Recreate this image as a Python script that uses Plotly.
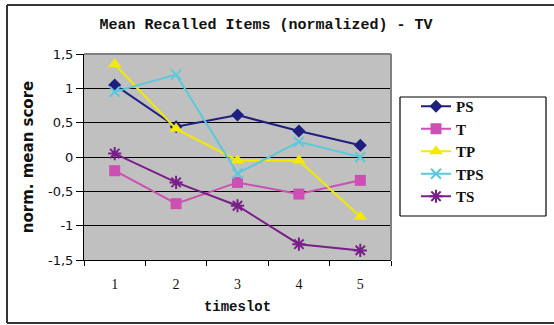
import plotly.graph_objects as go

timeslots = ["1", "2", "3", "4", "5"]
ps = [1.05, 0.44, 0.61, 0.38, 0.17]
t = [-0.20, -0.68, -0.37, -0.54, -0.34]
tp = [1.35, 0.41, -0.05, -0.05, -0.87]
tps = [0.95, 1.20, -0.24, 0.22, 0.00]
ts = [0.05, -0.37, -0.71, -1.27, -1.36]

y_ticks = [-1.5, -1, -0.5, 0, 0.5, 1, 1.5]
y_labels = ["-1,5", "-1", "-0,5", "0", "0,5", "1", "1,5"]

series = [
    ("PS", ps, "#1f1f80", dict(symbol="diamond", size=10)),
    ("T", t, "#cc4fb3", dict(symbol="square", size=11)),
    ("TP", tp, "#f2ea00", dict(symbol="triangle-up", size=12)),
    ("TPS", tps, "#5cc8dc", dict(symbol="x-thin-open", size=10, line=dict(width=2, color="#5cc8dc"))),
    ("TS", ts, "#7a1e8a", dict(symbol="asterisk-open", size=11, line=dict(width=2, color="#7a1e8a"))),
]

fig = go.Figure()
for name, vals, col, mk in series:
    m = dict(mk)
    m["color"] = col
    fig.add_trace(go.Scatter(x=timeslots, y=vals, name="<b>" + name + "</b>", mode="lines+markers",
                             line=dict(color=col, width=2), marker=m))

L, R, T, B = 84, 163, 54, 65
W, H = 554, 325
pw, ph = W - L - R, H - T - B

def px(x):
    return (x - L) / pw

def py(y):
    return (H - B - y) / ph

def line(x0, y0, x1, y1, color, width):
    return dict(type="line", xref="paper", yref="paper", x0=px(x0), x1=px(x1),
                y0=py(y0), y1=py(y1), line=dict(color=color, width=width), layer="above")

fig.update_layout(
    width=W, height=H,
    margin=dict(l=L, r=R, t=T, b=B),
    paper_bgcolor="white",
    plot_bgcolor="#c0c0c0",
    title=dict(text="<b>Mean Recalled Items (normalized) - TV</b>",
               x=266 / W, xanchor="center", xref="container",
               y=1 - 24 / H, yanchor="middle", yref="container",
               font=dict(family="Liberation Mono", size=15, color="#111")),
    xaxis=dict(type="category", range=[-0.5, 4.5], tickson="boundaries",
               ticks="outside", ticklen=5, tickcolor="black",
               showline=True, linecolor="black", linewidth=1, mirror=False,
               showgrid=False, zeroline=False, ticklabelstandoff=11,
               tickfont=dict(family="Liberation Serif", size=14, color="#111"),
               title=dict(text="<b>timeslot</b>", standoff=10,
                          font=dict(family="Liberation Mono", size=14, color="#111"))),
    yaxis=dict(range=[-1.5, 1.5], tickvals=y_ticks, ticktext=y_labels,
               ticks="outside", ticklen=7, tickcolor="black",
               showline=True, linecolor="black", linewidth=1,
               showgrid=True, gridcolor="black", gridwidth=1, zeroline=False,
               tickfont=dict(family="DejaVu Sans", size=13, color="#111"),
               title=dict(text="<b>norm. mean score</b>", standoff=10,
                          font=dict(family="DejaVu Sans", size=15, color="#111"))),
    showlegend=True,
    legend=dict(x=px(416), y=py(90), xanchor="left", yanchor="top",
                bgcolor="rgba(0,0,0,0)", borderwidth=0,
                font=dict(family="Liberation Serif", size=15, color="#111"),
                tracegroupgap=0),
    shapes=[
        dict(type="line", xref="paper", yref="paper", x0=0, x1=1, y0=1, y1=1,
             line=dict(color="#808080", width=2)),
        dict(type="line", xref="paper", yref="paper", x0=1, x1=1, y0=0, y1=1,
             line=dict(color="#808080", width=2)),
        # legend box
        line(400, 97, 546, 97, "black", 1.2),
        line(400, 216, 546, 216, "black", 1.2),
        line(400, 97, 400, 216, "black", 1.2),
        line(546, 97, 546, 216, "black", 1.2),
        # outer chart border
        line(7, 5, 554, 5, "#333", 2),
        line(7, 323, 554, 323, "#333", 2),
        line(7, 5, 7, 323, "#333", 2),
    ],
)

fig.write_html("out.html", config={"displayModeBar": False},
               post_script="document.body.style.margin='0px';document.body.style.overflow='hidden';")
